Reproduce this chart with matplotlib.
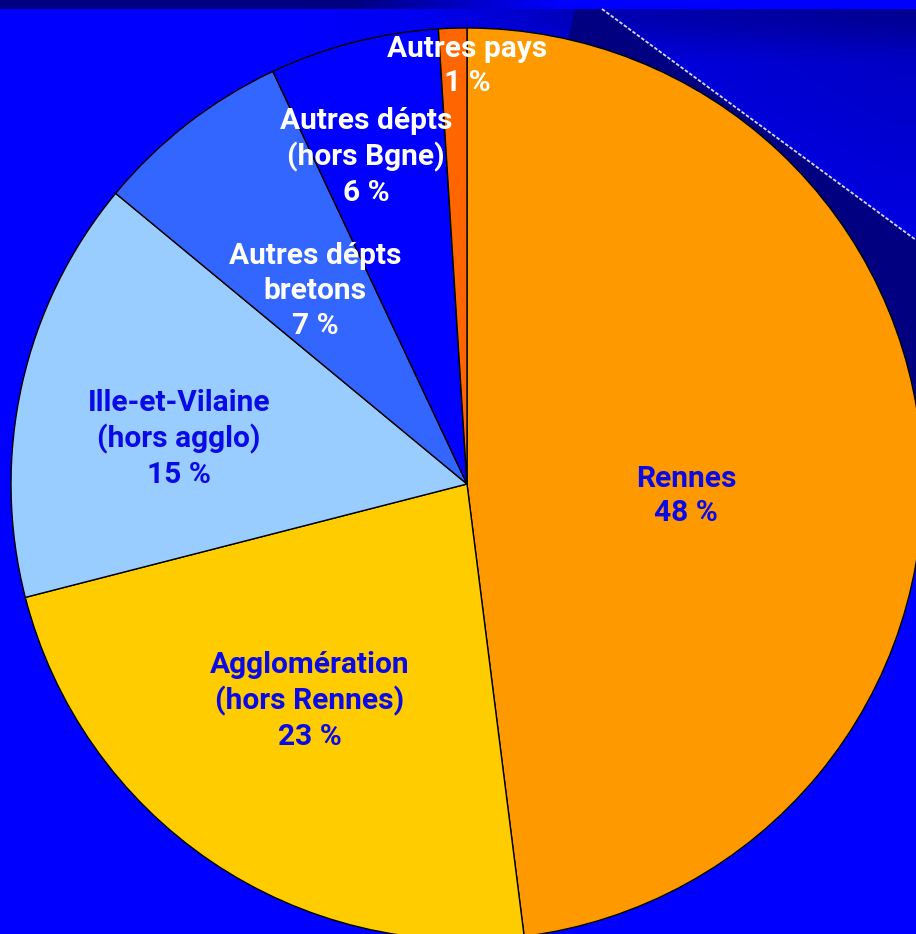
import matplotlib
matplotlib.use('Agg')
import matplotlib.pyplot as plt
import numpy as np

# data
categories = ['Rennes', 'Agglomération\n(hors Rennes)', 'Ille-et-Vilaine\n(hors agglo)',
              'Autres dépts\nbretons', 'Autres dépts\n(hors Bgne)', 'Autres pays']
shares = [48, 23, 15, 7, 6, 1]
slice_colors = ['#FF9900', '#FFCC00', '#99CCFF', '#3366FF', '#0000FF', '#FF6600']
text_colors = ['#0A0AE6', '#0A0AE6', '#0A0AE6', 'white', 'white', 'white']

W, H = 916, 934
# label centres in pixel coords (x, y from top)
label_pos = [(686, 496), (310, 701), (179, 439), (315, 291), (366, 157), (467, 66)]


def make_background():
    yy, xx = np.mgrid[0:H, 0:W].astype(float)
    f = np.clip((xx - 300) / 600, 0, 1) * np.clip((400 - yy) / 400, 0, 1)
    blue = 255 - 70 * f
    # darker patch just above the pie, fading into the shadow
    g = np.clip((xx - 420) / 160, 0, 1) * np.clip((60 - yy) / 40, 0, 1)
    blue = blue - 40 * g
    band = yy < 9
    blue[band] = 128 + 127 * np.clip((xx[band] - 350) / 210, 0, 1)
    img = np.zeros((H, W, 3))
    img[..., 2] = blue / 255
    return img


def main():
    plt.rcParams['font.family'] = ['Roboto', 'DejaVu Sans']
    fig = plt.figure(figsize=(W / 100, H / 100), dpi=100)
    ax = fig.add_axes([0, 0, 1, 1])

    ax.imshow(make_background(), extent=[0, W, 0, H], origin='upper', zorder=0)

    # dark shadow area between pie and the dashed line
    shadow = [(575, 9), (602, 9), (916, 240), (916, 400), (467, 484)]
    ax.add_patch(plt.Polygon([(x, H - y) for x, y in shadow], closed=True,
                             facecolor='#000080', edgecolor='none', zorder=1))
    ax.plot([602, 916], [H - 9, H - 240], color='#D8D8FF', lw=1.3,
            linestyle=(0, (2, 1)), zorder=2)

    cx, cy, r = 467, H - 484, 456
    wedges, _ = ax.pie(shares, colors=slice_colors, startangle=90, counterclock=False,
                       center=(cx, cy), radius=r, frame=True,
                       wedgeprops=dict(edgecolor='black', linewidth=1.0))
    for w in wedges:
        w.set_zorder(3)

    for lab, share, col, (x, y) in zip(categories, shares, text_colors, label_pos):
        ax.text(x, H - y, f'{lab}\n{share} %', ha='center', va='center', color=col,
                fontsize=21.5, fontweight='bold', linespacing=1.3, zorder=5)

    ax.set_xlim(0, W)
    ax.set_ylim(0, H)
    ax.set_aspect('auto')
    ax.axis('off')
    fig.savefig('out.png', dpi=100)


if __name__ == '__main__':
    main()
